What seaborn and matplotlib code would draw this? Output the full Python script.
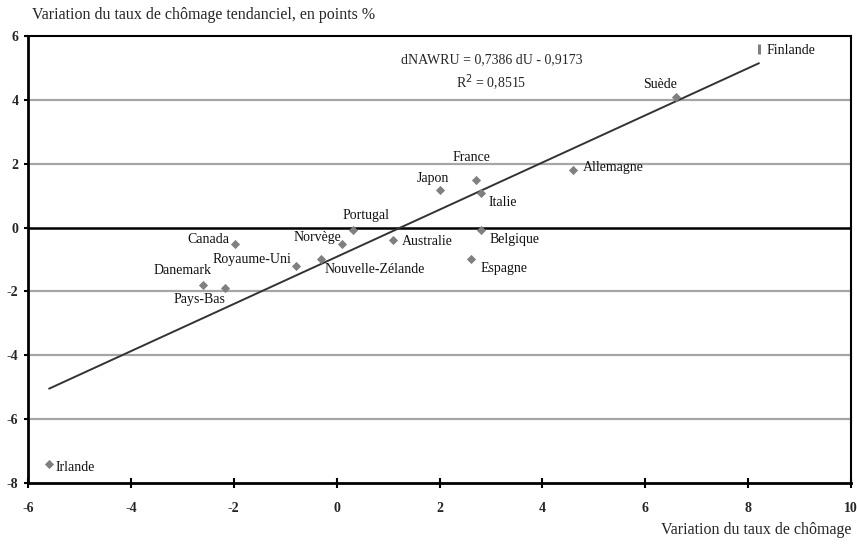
import numpy as np
import pandas as pd
import matplotlib
matplotlib.use("Agg")
import matplotlib.pyplot as plt
import seaborn as sns

# ---- data ----
countries = ["Finlande", "Suède", "Allemagne", "France", "Japon", "Italie",
             "Belgique", "Espagne", "Australie", "Portugal", "Norvège", "Canada",
             "Nouvelle-Zélande", "Royaume-Uni", "Danemark", "Pays-Bas", "Irlande"]
d_u = [8.21, 6.59, 4.60, 2.70, 2.00, 2.80, 2.80, 2.61, 1.10, 0.31, 0.10, -1.98,
       -0.30, -0.79, -2.59, -2.18, -5.59]
d_nawru = [5.60, 4.10, 1.80, 1.49, 1.18, 1.09, -0.08, -0.99, -0.39, -0.08, -0.51, -0.51,
           -0.99, -1.19, -1.81, -1.90, -7.40]
slope = 0.7386
intercept = -0.9173
x_ticks = [-6, -4, -2, 0, 2, 4, 6, 8, 10]
y_ticks = [-8, -6, -4, -2, 0, 2, 4, 6]

# label offsets (data units) and alignment
label_offsets = {
    "Finlande": (0.15, -0.04, "left"),
    "Suède": (-0.30, 0.37, "center"),
    "Allemagne": (0.18, 0.07, "left"),
    "France": (-0.08, 0.69, "center"),
    "Japon": (-0.13, 0.37, "center"),
    "Italie": (0.15, -0.29, "left"),
    "Belgique": (0.18, -0.31, "left"),
    "Espagne": (0.18, -0.28, "left"),
    "Australie": (0.16, -0.06, "left"),
    "Portugal": (0.27, 0.47, "center"),
    "Norvège": (-0.47, 0.21, "center"),
    "Canada": (-0.52, 0.15, "center"),
    "Nouvelle-Zélande": (0.07, -0.32, "left"),
    "Royaume-Uni": (-0.86, 0.20, "center"),
    "Danemark": (-0.40, 0.48, "center"),
    "Pays-Bas": (-0.48, -0.35, "center"),
    "Irlande": (0.13, -0.11, "left"),
}

df = pd.DataFrame({"pays": countries, "dU": d_u, "dNAWRU": d_nawru})
df_main = df[df["pays"] != "Finlande"]
df_fin = df[df["pays"] == "Finlande"]

sns.set_theme(style="white")
plt.rcParams["font.family"] = ["Liberation Serif", "DejaVu Serif"]

fig = plt.figure(figsize=(8.57, 5.45), dpi=100)
ax = fig.add_axes([0.0327, 0.1138, 0.9603, 0.8202])

ax.set_xlim(-6, 10)
ax.set_ylim(-8, 6)

# gridlines
for yv in y_ticks:
    if yv in (0, 6, -8):
        continue
    ax.axhline(yv, color="#a6a6a6", lw=1.6, zorder=0)
ax.axhline(0, color="black", lw=1.8, zorder=1)

sns.scatterplot(data=df_main, x="dU", y="dNAWRU", marker="D", s=22, color="#808080",
                edgecolor="#808080", linewidth=0, ax=ax, zorder=3)
sns.scatterplot(data=df_fin, x="dU", y="dNAWRU", marker="|", s=60, color="#808080",
                linewidth=2.2, ax=ax, zorder=3)

xfit = np.array([min(d_u), max(d_u)])
sns.lineplot(x=xfit, y=slope * xfit + intercept, color="#333333", lw=1.4, ax=ax, zorder=2)

for name, xv, yv in zip(countries, d_u, d_nawru):
    dx, dy, ha = label_offsets[name]
    ax.text(xv + dx, yv + dy, name, ha=ha, va="center", fontsize=10, color="#111111", zorder=4)

ax.text(3.02, 5.25, "dNAWRU = 0,7386 dU - 0,9173", ha="center", va="center", fontsize=10)
ax.text(3.0, 4.53, "R$^{2}$ = 0,8515", ha="center", va="center", fontsize=10)

ax.set_xticks(x_ticks)
ax.set_yticks(y_ticks)
ax.set_xticklabels([str(v) for v in x_ticks], fontweight="bold", fontsize=10)
ax.set_yticklabels([str(v) for v in y_ticks], fontweight="bold", fontsize=10)
ax.tick_params(axis="x", direction="inout", length=7, width=1.5, color="black", pad=10)
ax.tick_params(axis="y", direction="out", length=3, width=1.5, color="black", pad=4)
ax.xaxis.set_ticks_position("bottom")
ax.yaxis.set_ticks_position("left")

for side in ["left", "bottom"]:
    ax.spines[side].set_color("black")
    ax.spines[side].set_linewidth(2.0)
for side in ["top", "right"]:
    ax.spines[side].set_color("black")
    ax.spines[side].set_linewidth(1.5)

ax.set_xlabel("")
ax.set_ylabel("")
fig.text(0.037, 0.972, "Variation du taux de chômage tendanciel, en points %",
         ha="left", va="center", fontsize=11.5)
fig.text(0.994, 0.027, "Variation du taux de chômage", ha="right", va="center", fontsize=11.5)

fig.savefig("out.png", dpi=100)
